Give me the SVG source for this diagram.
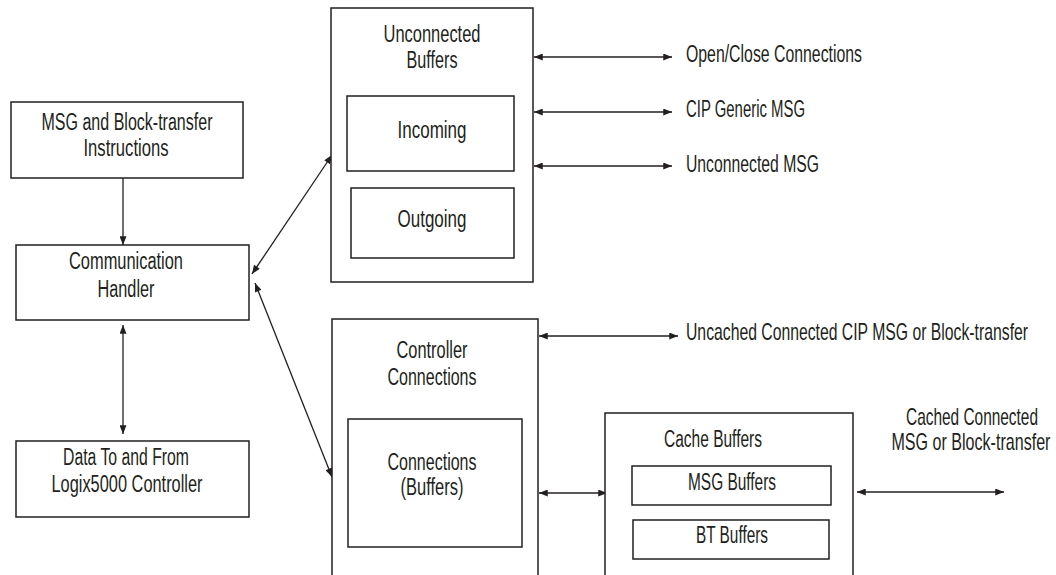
<svg xmlns="http://www.w3.org/2000/svg" width="1056" height="575" viewBox="0 0 1056 575">
<style>
.box{fill:#fff;stroke:#231f20;stroke-width:1.5}
.ln{fill:none;stroke:#231f20;stroke-width:1.3}
text{font-family:"Liberation Sans",Arial,sans-serif;font-size:23px;fill:#231f20}
.c{text-anchor:middle}
</style>
<defs>
<marker id="ah" viewBox="0 0 10 8" refX="10" refY="4" markerWidth="10" markerHeight="7" markerUnits="userSpaceOnUse" orient="auto-start-reverse">
<path d="M0,0 L10,4 L0,8 z" fill="#231f20"/>
</marker>
</defs>
<rect width="1056" height="575" fill="#fff"/>
<g id="connectors">
<line class="ln" x1="123" y1="178" x2="123" y2="245" marker-end="url(#ah)"/>
<line class="ln" x1="123" y1="325" x2="123" y2="434" marker-start="url(#ah)" marker-end="url(#ah)"/>
<line class="ln" x1="252" y1="274" x2="332" y2="155" marker-start="url(#ah)" marker-end="url(#ah)"/>
<line class="ln" x1="255" y1="283" x2="332" y2="477" marker-start="url(#ah)" marker-end="url(#ah)"/>
<line class="ln" x1="534" y1="57" x2="672" y2="57" marker-start="url(#ah)" marker-end="url(#ah)"/>
<line class="ln" x1="534" y1="112" x2="672" y2="112" marker-start="url(#ah)" marker-end="url(#ah)"/>
<line class="ln" x1="534" y1="166" x2="672" y2="166" marker-start="url(#ah)" marker-end="url(#ah)"/>
<line class="ln" x1="539" y1="336" x2="678" y2="336" marker-start="url(#ah)" marker-end="url(#ah)"/>
<line class="ln" x1="539" y1="493" x2="607" y2="493" marker-start="url(#ah)" marker-end="url(#ah)"/>
<line class="ln" x1="857" y1="492" x2="1004" y2="492" marker-start="url(#ah)" marker-end="url(#ah)"/>
</g>
<g id="msg-instructions">
<rect class="box" x="11" y="102" width="232" height="76"/>
<text class="c" x="127" y="130" textLength="171" lengthAdjust="spacingAndGlyphs">MSG and Block-transfer</text>
<text class="c" x="126" y="156" textLength="85" lengthAdjust="spacingAndGlyphs">Instructions</text>
</g>
<g id="comm-handler">
<rect class="box" x="16" y="245" width="233" height="75"/>
<text class="c" x="126" y="269" textLength="114" lengthAdjust="spacingAndGlyphs">Communication</text>
<text class="c" x="126" y="297" textLength="57" lengthAdjust="spacingAndGlyphs">Handler</text>
</g>
<g id="data">
<rect class="box" x="16" y="441" width="233" height="76"/>
<text class="c" x="126" y="465" textLength="126" lengthAdjust="spacingAndGlyphs">Data To and From</text>
<text class="c" x="127" y="492" textLength="151" lengthAdjust="spacingAndGlyphs">Logix5000 Controller</text>
</g>
<g id="unconnected-buffers">
<rect class="box" x="331" y="8" width="202" height="274"/>
<text class="c" x="432" y="42" textLength="97" lengthAdjust="spacingAndGlyphs">Unconnected</text>
<text class="c" x="432" y="68" textLength="51" lengthAdjust="spacingAndGlyphs">Buffers</text>
<g id="incoming">
<rect class="box" x="347" y="96" width="167" height="75"/>
<text class="c" x="432" y="138" textLength="69" lengthAdjust="spacingAndGlyphs">Incoming</text>
</g>
<g id="outgoing">
<rect class="box" x="351" y="188" width="163" height="70"/>
<text class="c" x="432" y="227" textLength="69" lengthAdjust="spacingAndGlyphs">Outgoing</text>
</g>
</g>
<g id="controller-connections">
<rect class="box" x="332" y="319" width="206" height="280"/>
<text class="c" x="432" y="358" textLength="71" lengthAdjust="spacingAndGlyphs">Controller</text>
<text class="c" x="432" y="385" textLength="89" lengthAdjust="spacingAndGlyphs">Connections</text>
<g id="connections-buffers">
<rect class="box" x="348" y="419" width="174" height="128"/>
<text class="c" x="432" y="470" textLength="89" lengthAdjust="spacingAndGlyphs">Connections</text>
<text class="c" x="432" y="495" textLength="63" lengthAdjust="spacingAndGlyphs">(Buffers)</text>
</g>
</g>
<g id="cache-buffers">
<rect class="box" x="605" y="413" width="248" height="186"/>
<text class="c" x="713" y="447" textLength="98" lengthAdjust="spacingAndGlyphs">Cache Buffers</text>
<g id="msg-buffers">
<rect class="box" x="632" y="466" width="199" height="39"/>
<text class="c" x="732" y="490" textLength="88" lengthAdjust="spacingAndGlyphs">MSG Buffers</text>
</g>
<g id="bt-buffers">
<rect class="box" x="633" y="520" width="196" height="39"/>
<text class="c" x="732" y="543" textLength="72" lengthAdjust="spacingAndGlyphs">BT Buffers</text>
</g>
</g>
<g id="labels">
<text x="686" y="62" textLength="176" lengthAdjust="spacingAndGlyphs">Open/Close Connections</text>
<text x="686" y="117" textLength="119" lengthAdjust="spacingAndGlyphs">CIP Generic MSG</text>
<text x="686" y="172" textLength="133" lengthAdjust="spacingAndGlyphs">Unconnected MSG</text>
<text transform="scale(0.7,1)" x="980" y="340" textLength="488.6" lengthAdjust="spacingAndGlyphs">Uncached Connected CIP MSG or Block-transfer</text>
<text class="c" transform="scale(0.7,1)" x="1388.6" y="425" textLength="188.6" lengthAdjust="spacingAndGlyphs">Cached Connected</text>
<text class="c" transform="scale(0.7,1)" x="1387.1" y="450" textLength="227.1" lengthAdjust="spacingAndGlyphs">MSG or Block-transfer</text>
</g>
</svg>
